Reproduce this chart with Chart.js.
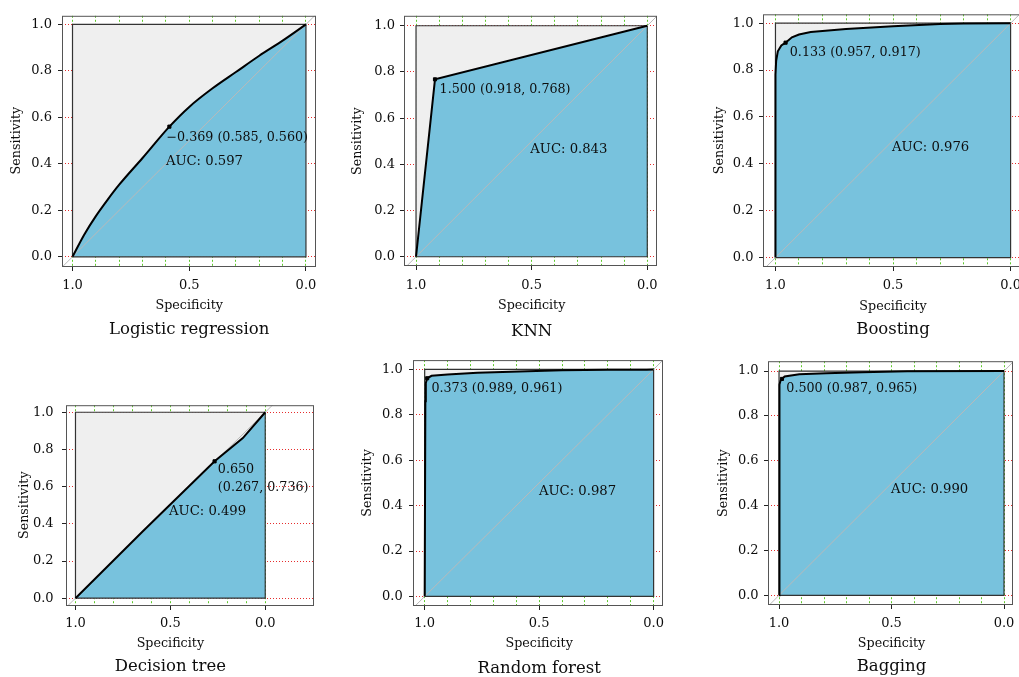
<!DOCTYPE html>
<html><head><meta charset="utf-8">
<script src="https://cdn.jsdelivr.net/npm/chart.js@4.4.1/dist/chart.umd.min.js"></script>
<style>
html,body{margin:0;padding:0;background:#fff;width:1019px;height:677px;overflow:hidden;position:relative}
canvas{position:absolute}
</style></head><body>
<script>
// ---------------- data ----------------
const panelTitles = ['Logistic regression', 'KNN', 'Boosting', 'Decision tree', 'Random forest', 'Bagging'];

const lrSpecificity = [1, 0.95, 0.9, 0.85, 0.8, 0.7, 0.585, 0.5, 0.4, 0.3, 0.2, 0.1, 0];
const lrSensitivity = [0, 0.095, 0.175, 0.245, 0.31, 0.425, 0.56, 0.645, 0.725, 0.795, 0.865, 0.93, 1];

const knnSpecificity = [1, 0.918, 0];
const knnSensitivity = [0, 0.768, 1];

const boostSpecificity = [1, 1, 0.997, 0.99, 0.975, 0.957, 0.93, 0.9, 0.85, 0.7, 0.5, 0.3, 0.2, 0];
const boostSensitivity = [0, 0.78, 0.84, 0.88, 0.905, 0.917, 0.94, 0.952, 0.962, 0.975, 0.987, 0.997, 0.999, 1];

const treeSpecificity = [1, 0.645, 0.267, 0.118, 0];
const treeSensitivity = [0, 0.36, 0.736, 0.861, 1];

const rfSpecificity = [1, 0.997, 0.995, 0.989, 0.97, 0.9, 0.77, 0.55, 0.4, 0.2, 0.03, 0];
const rfSensitivity = [0, 0.86, 0.94, 0.961, 0.972, 0.978, 0.985, 0.992, 0.996, 0.998, 0.998, 1];

const bagSpecificity = [1, 0.998, 0.993, 0.987, 0.975, 0.91, 0.79, 0.63, 0.43, 0];
const bagSensitivity = [0, 0.94, 0.958, 0.965, 0.976, 0.986, 0.99, 0.995, 0.999, 1];

const thresholdValues = ['\u22120.369', '1.500', '0.133', '0.650', '0.373', '0.500'];
const thresholdSpecificity = [0.585, 0.918, 0.957, 0.267, 0.989, 0.987];
const thresholdSensitivity = [0.560, 0.768, 0.917, 0.736, 0.961, 0.965];
const aucValues = [0.597, 0.843, 0.976, 0.499, 0.987, 0.990];

const squareSpecificity = [1, 1, 0, 0, 1];
const squareSensitivity = [0, 1, 1, 0, 0];
const chanceSpecificity = [1.3, -0.3];
const chanceSensitivity = [-0.3, 1.3];

const yTickValues = [0, 0.2, 0.4, 0.6, 0.8, 1.0];
const xTickValues = [0, 0.1, 0.2, 0.3, 0.4, 0.5, 0.6, 0.7, 0.8, 0.9, 1.0];
const xLabeledTicks = [0, 0.5, 1.0];

const rocSpecificity = [lrSpecificity, knnSpecificity, boostSpecificity, treeSpecificity, rfSpecificity, bagSpecificity];
const rocSensitivity = [lrSensitivity, knnSensitivity, boostSensitivity, treeSensitivity, rfSensitivity, bagSensitivity];

// ---------------- layout (page pixels) ----------------
const panelLayout = [
  {box:[62,14,316,267],  lim:[-0.043,1.045,-0.044,1.037], xPad:7.2, yPad:6,   sensDx:-45.3, specDy:39,   titleDy:63,   thrDx:-3,  thrDy:10.7, auc:[0.600,0.411], twoLine:false, smooth:true},
  {box:[404,15,657,266], lim:[-0.042,1.052,-0.040,1.043], xPad:8.2, yPad:5,   sensDx:-46,   specDy:40,   titleDy:65.7, thrDx:4.6, thrDy:10.3, auc:[0.506,0.466], twoLine:false, smooth:false},
  {box:[763,13,1020,267],lim:[-0.040,1.053,-0.040,1.038], xPad:7.2, yPad:5.5, sensDx:-43.7, specDy:39.7, titleDy:63,   thrDx:4.2, thrDy:9.9,  auc:[0.504,0.468], twoLine:false, smooth:false},
  {box:[66,401,314,606], lim:[-0.257,1.050,-0.042,1.038], xPad:5.5, yPad:8.4, sensDx:-41,   specDy:37.3, titleDy:60.7, thrDx:3.3, thrDy:8.3,  auc:[0.507,0.466], twoLine:true,  smooth:false},
  {box:[413,358,663,606],lim:[-0.041,1.051,-0.042,1.041], xPad:5.5, yPad:6.3, sensDx:-45,   specDy:37.3, titleDy:62.3, thrDx:4.2, thrDy:10,   auc:[0.5007,0.464], twoLine:false, smooth:false},
  {box:[768,360,1013,605],lim:[-0.040,1.049,-0.043,1.044],xPad:6.5, yPad:5.4, sensDx:-44.7, specDy:38.3, titleDy:61.7, thrDx:4.4, thrDy:9.4,  auc:[0.502,0.470], twoLine:false, smooth:false}
];

const BLUE = 'rgb(120,194,221)';
const SERIF = '"DejaVu Serif", "Liberation Serif", serif';
const INK = '#0d0d0d';
Chart.defaults.font.family = SERIF;
Chart.defaults.color = INK;

const pts = (xs, ys) => xs.map((v, i) => ({x: v, y: ys[i]}));

function textPlugin(i) {
  const L = panelLayout[i];
  return {
    id: 'rocText' + i,
    afterDraw(chart) {
      const {ctx, chartArea, scales} = chart;
      const x = scales.x, y = scales.y;
      ctx.save();
      ctx.fillStyle = INK;
      ctx.textBaseline = 'middle';
      ctx.textAlign = 'left';
      // threshold label
      ctx.font = '12.7px ' + SERIF;
      const px = x.getPixelForValue(thresholdSpecificity[i]);
      const py = y.getPixelForValue(thresholdSensitivity[i]);
      const coord = '(' + thresholdSpecificity[i].toFixed(3) + ', ' + thresholdSensitivity[i].toFixed(3) + ')';
      const lines = L.twoLine ? [thresholdValues[i], coord] : [thresholdValues[i] + ' ' + coord];
      lines.forEach((t, k) => ctx.fillText(t, px + L.thrDx, py + L.thrDy + k * 18.3));
      // AUC label
      ctx.font = '13.2px ' + SERIF;
      ctx.fillText('AUC: ' + aucValues[i].toFixed(3), x.getPixelForValue(L.auc[0]), y.getPixelForValue(L.auc[1]));
      // axis titles
      ctx.textAlign = 'center';
      ctx.font = '12.7px ' + SERIF;
      const cx = x.getPixelForValue(0.5);
      ctx.fillText('Specificity', cx, chartArea.bottom + L.specDy);
      ctx.save();
      ctx.translate(chartArea.left + L.sensDx, y.getPixelForValue(0.5));
      ctx.rotate(-Math.PI / 2);
      ctx.fillText('Sensitivity', 0, 0);
      ctx.restore();
      // panel title
      ctx.font = '16.5px ' + SERIF;
      ctx.fillText(panelTitles[i], cx, chartArea.bottom + L.titleDy);
      // outer frame
      ctx.strokeStyle = '#555';
      ctx.lineWidth = 1;
      ctx.strokeRect(chartArea.left + 0.5, chartArea.top + 0.5, chartArea.width - 1, chartArea.height - 1);
      ctx.restore();
    }
  };
}

panelLayout.forEach((L, i) => {
  const [bl, bt, br, bb] = L.box;
  const W = 70, TOP = 12, RIGHT = 10, XH = 30;
  const left = bl - W, top = bt - TOP;
  const width = br + RIGHT - left;
  const height = Math.round(bb + L.titleDy + 16) - top;
  const cv = document.createElement('canvas');
  cv.width = width; cv.height = height;
  cv.style.left = left + 'px'; cv.style.top = top + 'px';
  cv.style.width = width + 'px'; cv.style.height = height + 'px';
  document.body.appendChild(cv);

  const rocSet = {data: pts(rocSpecificity[i], rocSensitivity[i]), borderColor: '#000', borderWidth: 2, pointRadius: 0,
                  fill: 'origin', backgroundColor: BLUE, order: 1};
  if (L.smooth) rocSet.cubicInterpolationMode = 'monotone';

  new Chart(cv, {
    type: 'line',
    data: {
      datasets: [
        {data: pts([thresholdSpecificity[i]], [thresholdSensitivity[i]]), showLine: false, pointRadius: 2.2,
         pointStyle: 'rect', pointBackgroundColor: '#000', pointBorderColor: '#000', order: 0},
        rocSet,
        {data: pts(chanceSpecificity, chanceSensitivity), borderColor: 'rgb(185,185,185)', borderWidth: 1,
         pointRadius: 0, fill: false, order: 2},
        {data: pts(squareSpecificity, squareSensitivity), borderColor: '#333', borderWidth: 1.2,
         pointRadius: 0, fill: false, order: 3},
        {data: pts(squareSpecificity.slice(1, 3), squareSensitivity.slice(1, 3)), borderWidth: 0,
         pointRadius: 0, fill: 'origin', backgroundColor: '#efefef', order: 4}
      ]
    },
    options: {
      responsive: false, animation: false, devicePixelRatio: 1, events: [],
      layout: {autoPadding: false, padding: {left: 0, top: TOP, right: RIGHT, bottom: height - TOP - (bb - bt) - XH}},
      plugins: {legend: {display: false}, tooltip: {enabled: false}, title: {display: false},
                filler: {drawTime: 'beforeDatasetsDraw'}},
      elements: {line: {tension: 0}},
      scales: {
        x: {
          type: 'linear', position: 'bottom', reverse: true, min: L.lim[0], max: L.lim[1], bounds: 'data',
          afterBuildTicks: s => { s.ticks = xTickValues.map(v => ({value: v})); },
          afterFit: s => { s.height = XH; },
          ticks: {autoSkip: false, maxRotation: 0, minRotation: 0, padding: L.xPad,
                  font: {size: 13, family: SERIF}, color: INK,
                  callback: v => xLabeledTicks.includes(v) ? v.toFixed(1) : ''},
          grid: {color: 'rgb(95,200,45)', lineWidth: 1, drawTicks: true, tickLength: 4, tickWidth: 1,
                 tickBorderDash: [],
                 tickColor: c => (c.tick && xLabeledTicks.includes(c.tick.value)) ? '#222' : 'rgba(0,0,0,0)'},
          border: {display: false, dash: [2, 2]}
        },
        y: {
          type: 'linear', position: 'left', min: L.lim[2], max: L.lim[3], bounds: 'data',
          afterBuildTicks: s => { s.ticks = yTickValues.map(v => ({value: v})); },
          afterFit: s => { s.width = W; },
          ticks: {padding: L.yPad, font: {size: 13, family: SERIF}, color: INK,
                  callback: v => Number(v).toFixed(1)},
          grid: {color: 'rgb(230,45,45)', lineWidth: 1, drawTicks: true, tickLength: 4, tickWidth: 1,
                 tickBorderDash: [], tickColor: '#222'},
          border: {display: false, dash: [1, 2]}
        }
      }
    },
    plugins: [textPlugin(i)]
  });
});
</script>
</body></html>
